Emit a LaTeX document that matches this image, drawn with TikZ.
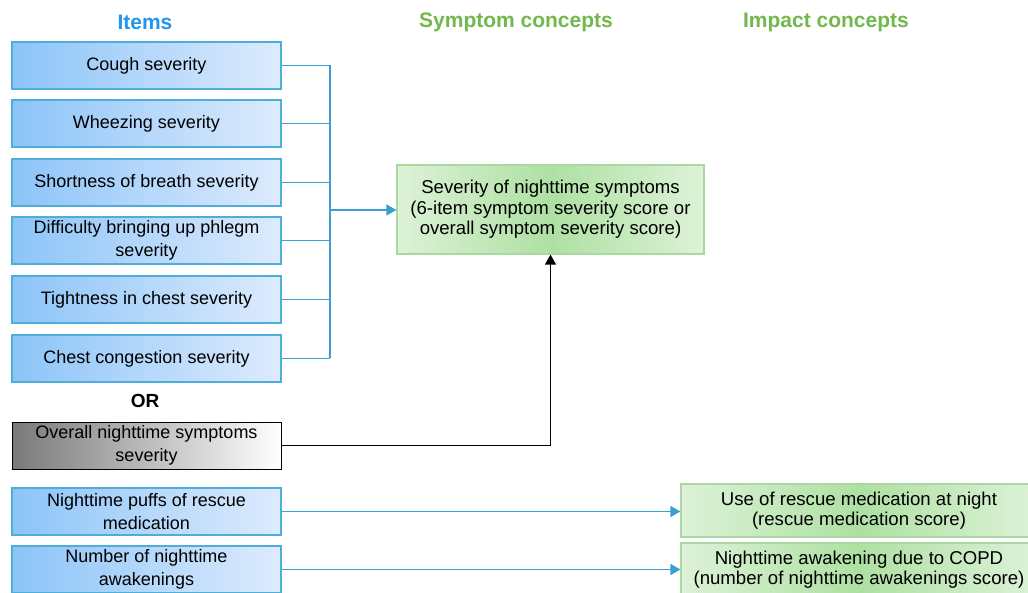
\documentclass[tikz,border=0pt]{standalone}
\usepackage{fontspec}
\setmainfont{Liberation Sans}
\usetikzlibrary{arrows.meta}
\definecolor{hdrblue}{HTML}{2196EC}
\definecolor{hdrgreen}{HTML}{72B84C}
\definecolor{bborder}{HTML}{4FADDA}
\definecolor{bleft}{HTML}{8CC4F8}
\definecolor{bright}{HTML}{DDEBFD}
\definecolor{gborder}{HTML}{A9D9A1}
\definecolor{gside}{HTML}{DDF2D8}
\definecolor{gmid}{HTML}{AEE0A2}
\definecolor{conn}{HTML}{3A9FD0}
\tikzset{
  itembox/.style={draw=bborder, line width=1.2pt, left color=bleft, right color=bright,
    minimum width=269pt, minimum height=47pt, inner sep=0pt, align=center,
    font=\fontsize{18}{23}\selectfont},
  graybox/.style={draw=black, line width=1pt, left color=gray!95!black, right color=white,
    minimum width=269pt, minimum height=47pt, inner sep=0pt, align=center,
    font=\fontsize{18}{23}\selectfont},
  conceptbox/.style={draw=gborder, line width=1.2pt, left color=gside, right color=gside, middle color=gmid,
    inner sep=0pt, align=center, font=\fontsize{18.6}{20.6}\selectfont},
  header/.style={font=\fontsize{21}{24}\selectfont\bfseries},
  bline/.style={draw=conn, line width=1.2pt},
  barrow/.style={bline, -{Triangle[length=10pt,width=11pt]}},
  karrow/.style={draw=black, line width=1.2pt, -{Triangle[length=10pt,width=11pt]}}
}
\begin{document}
\begin{tikzpicture}[x=1pt,y=-1pt]
\clip (0,0) rectangle (1028,593);
\fill[white] (0,0) rectangle (1028,593);
\node[header, text=hdrblue] (h1) at (145,22) {Items};
\node[header, text=hdrgreen] (h2) at (516,22) {Symptom concepts};
\node[header, text=hdrgreen] (h3) at (826,22) {Impact concepts};

\node[itembox] (b1) at (146.5,65.5) {Cough severity};
\node[itembox] (b2) at (146.5,123.5) {Wheezing severity};
\node[itembox] (b3) at (146.5,182.5) {Shortness of breath severity};
\node[itembox] (b4) at (146.5,240.5) {Difficulty bringing up phlegm\\severity};
\node[itembox] (b5) at (146.5,299.5) {Tightness in chest severity};
\node[itembox] (b6) at (146.5,358.5) {Chest congestion severity};
\node[font=\fontsize{19}{22}\selectfont\bfseries] (or) at (145,401) {OR};
\node[graybox] (b7) at (146.5,445.5) {Overall nighttime symptoms\\severity};
\node[itembox] (b8) at (146.5,511.5) {Nighttime puffs of rescue\\medication};
\node[itembox] (b9) at (146.5,569.5) {Number of nighttime\\awakenings};

\node[conceptbox, minimum width=307pt, minimum height=89pt] (g1) at (550.5,209.5)
  {Severity of nighttime symptoms\\(6-item symptom severity score or\\overall symptom severity score)};
\node[conceptbox, minimum width=356pt, minimum height=53pt] (g2) at (859,510.5)
  {Use of rescue medication at night\\(rescue medication score)};
\node[conceptbox, minimum width=356pt, minimum height=53pt] (g3) at (859,569.5)
  {Nighttime awakening due to COPD\\(number of nighttime awakenings score)};

\coordinate (bus) at (330,210);
\foreach \b in {b1,b2,b3,b4,b5,b6}{
  \draw[bline] (\b.east) -- (\b.east -| bus);
}
\draw[bline] (b1.east -| bus) -- (b6.east -| bus);
\draw[barrow] (bus) -- (bus -| g1.west);
\draw[karrow] (b7.east) -| (g1.south);
\draw[barrow] (b8.east) -- (b8.east -| g2.west);
\draw[barrow] (b9.east) -- (b9.east -| g3.west);
\end{tikzpicture}
\end{document}
